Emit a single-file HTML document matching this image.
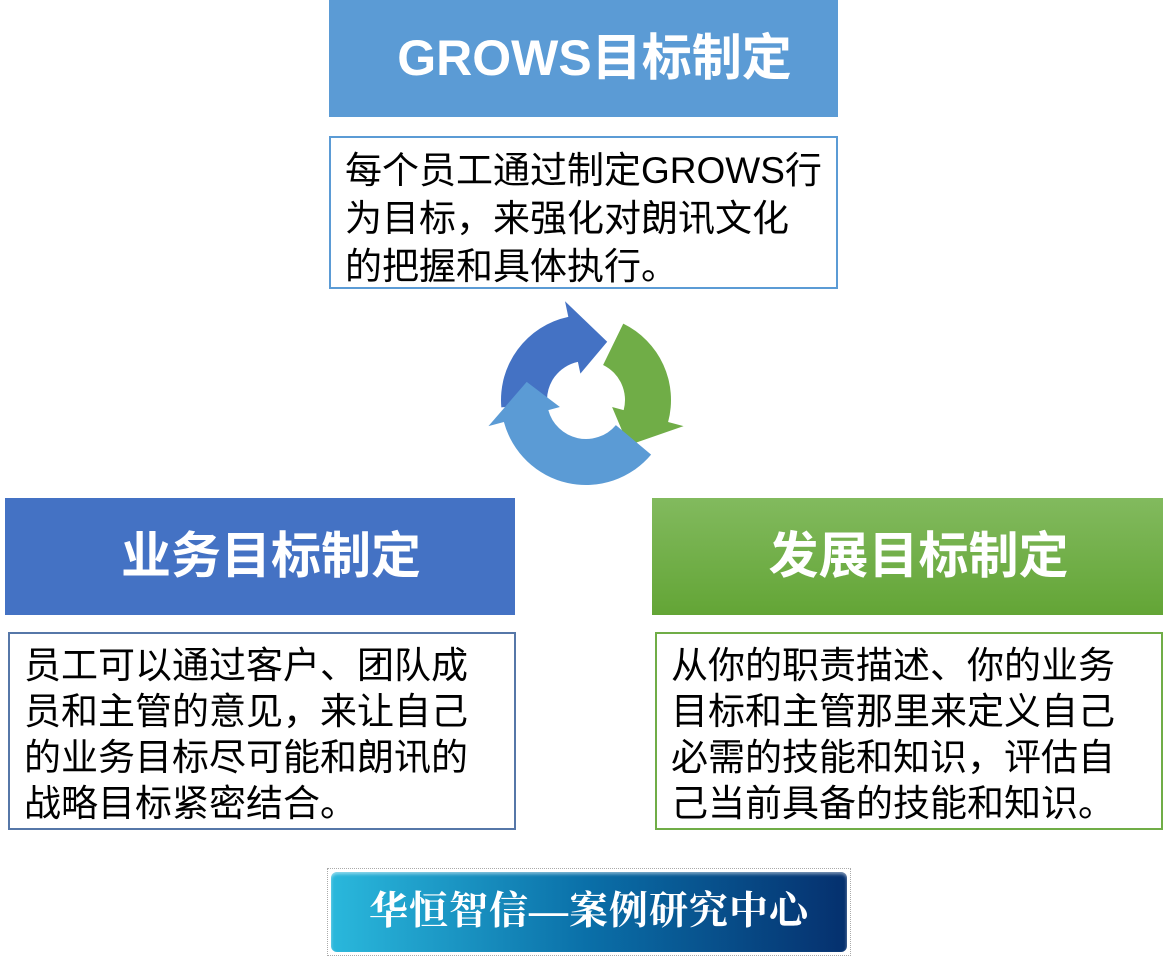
<!DOCTYPE html>
<html><head><meta charset="utf-8"><style>
body{margin:0;width:1163px;height:959px;background:#fff;position:relative;overflow:hidden;font-family:"Liberation Sans","Noto Sans CJK SC",sans-serif}
.a{position:absolute;box-sizing:border-box}
.h{color:#fff;font-weight:bold;font-size:50px;text-align:center;line-height:117px;height:117px;padding-left:22px}
.t{font-size:37px;line-height:46px;color:#000;padding:0 0 0 14px;white-space:nowrap}
</style></head><body>
<div class="a h" style="left:329px;top:0;width:509px;background:#5b9bd5">GROWS目标制定</div>
<div class="a t" style="left:329px;top:136px;width:509px;height:153px;border:2px solid #5b9bd5;padding-top:9px;line-height:48px">每个员工通过制定GROWS行<br>为目标，来强化对朗讯文化<br>的把握和具体执行。</div>

<div class="a h" style="left:5px;top:498px;width:510px;background:#4472c4">业务目标制定</div>
<div class="a t" style="left:8px;top:632px;width:508px;height:198px;border:2px solid #5677a8;padding-top:9px">员工可以通过客户、团队成<br>员和主管的意见，来让自己<br>的业务目标尽可能和朗讯的<br>战略目标紧密结合。</div>

<div class="a h" style="left:652px;top:498px;width:511px;background:linear-gradient(#82ba5e,#63a536)">发展目标制定</div>
<div class="a t" style="left:655px;top:632px;width:508px;height:198px;border:2px solid #70ad47;padding-top:9px">从你的职责描述、你的业务<br>目标和主管那里来定义自己<br>必需的技能和知识，评估自<br>己当前具备的技能和知识。</div>

<svg class="a" style="left:0;top:0" width="1163" height="959" id="s"></svg>

<div class="a" style="left:327px;top:868px;width:524px;height:88px;border:1px dotted #aaa;padding:3px">
<div style="width:100%;height:100%;border-radius:6px;background:linear-gradient(90deg,#2ab8dc,#0a6fa8 50%,#05306e);box-shadow:inset 0 2px 3px rgba(255,255,255,.5);color:#fff;font-family:'Liberation Serif','Noto Serif CJK SC',serif;font-weight:bold;font-size:39px;text-align:center;line-height:80px;letter-spacing:1px">华恒智信—案例研究中心</div></div>

<script>
var cx=586,cy=400,r=62,w=46,s=document.getElementById('s'),ns='http://www.w3.org/2000/svg';
function p(a,rr){a=a*Math.PI/180;return [cx+rr*Math.cos(a),cy+rr*Math.sin(a)];}
function seg(a0,a1,hl,col){
 var ri=r-w/2,ro=r+w/2,hb=a1,ht=a1+hl;
 var o0=p(a0,ro),o1=p(hb,ro),i1=p(hb,ri),i0=p(a0,ri);
 var b1=p(hb,ro+16),b2=p(hb,ri-12),tip=p(ht,r);
 var large=((a1-a0+360)%360)>180?1:0;
 var d='M'+o0+' A'+ro+' '+ro+' 0 '+large+' 1 '+o1+' L'+b1+' L'+tip+' L'+b2+' L'+i1+' A'+ri+' '+ri+' 0 '+large+' 0 '+i0+'Z';
 var e=document.createElementNS(ns,'path');e.setAttribute('d',d.replace(/,/g,' '));e.setAttribute('fill',col);s.appendChild(e);
}
seg(175,258,32,'#4472c4');
seg(296,15,32,'#70ad47');
seg(40,165,32,'#5b9bd5');
</script>
</body></html>
